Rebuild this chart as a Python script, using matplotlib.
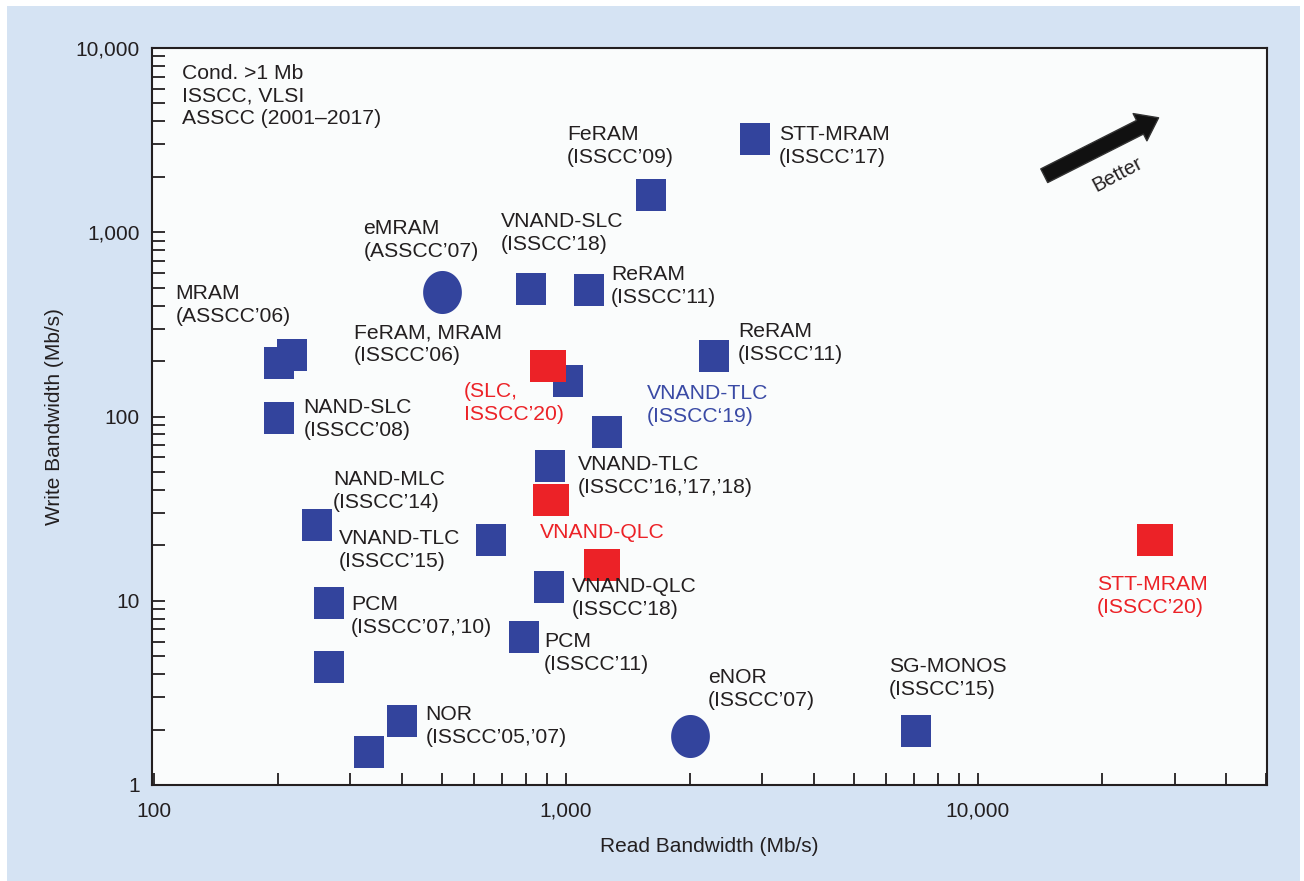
import numpy as np
import matplotlib.pyplot as plt
from matplotlib.path import Path
from matplotlib.patches import Rectangle, FancyArrowPatch
from matplotlib.ticker import FixedLocator, LogLocator, FuncFormatter, NullFormatter

plt.rcParams['font.family'] = ['Liberation Sans', 'DejaVu Sans']

# Dados (Mb/s)
blue_read = [201, 216, 822, 1137, 201, 1011, 1258, 915, 249, 658, 909, 266, 266, 791,
             2876, 1608, 2287, 332, 400, 7072]
blue_write = [195, 216, 492, 486, 98, 156, 82, 53.9, 25.8, 21.4, 11.9, 9.7, 4.37, 6.36,
              3207, 1592, 213, 1.51, 2.23, 1.96]

circle_read = [500, 2000]
circle_write = [474, 1.84]

red_read = [904, 920, 1223, 26900]
red_write = [188, 35.2, 15.6, 21.4]

# texto, x, y (dados), cor
labels = [
    ("Cond. >1 Mb\nISSCC, VLSI\nASSCC (2001–2017)", 117, 5487, 'k'),
    ("MRAM\n(ASSCC’06)", 113, 403, 'k'),
    ("eMRAM\n(ASSCC’07)", 323, 908, 'k'),
    ("FeRAM\n(ISSCC’09)", 1006, 2938, 'k'),
    ("STT-MRAM\n(ISSCC’17)", 3289, 2938, 'k'),
    ("VNAND-SLC\n(ISSCC’18)", 695, 991, 'k'),
    ("ReRAM\n(ISSCC’11)", 1286, 511, 'k'),
    ("FeRAM, MRAM\n(ISSCC’06)", 306, 247, 'k'),
    ("ReRAM\n(ISSCC’11)", 2615, 250, 'k'),
    ("(SLC,\nISSCC’20)", 565, 118, 'r'),
    ("VNAND-TLC\n(ISSCC‘19)", 1573, 115, 'b'),
    ("NAND-SLC\n(ISSCC’08)", 231, 97, 'k'),
    ("VNAND-TLC\n(ISSCC’16,’17,’18)", 1069, 47.5, 'k'),
    ("NAND-MLC\n(ISSCC’14)", 272, 39.4, 'k'),
    ("VNAND-QLC", 865, 23.6, 'r'),
    ("VNAND-TLC\n(ISSCC’15)", 281, 18.9, 'k'),
    ("VNAND-QLC\n(ISSCC’18)", 1034, 10.35, 'k'),
    ("PCM\n(ISSCC’07,’10)", 301, 8.27, 'k'),
    ("PCM\n(ISSCC’11)", 884, 5.2, 'k'),
    ("STT-MRAM\n(ISSCC’20)", 19450, 10.6, 'r'),
    ("eNOR\n(ISSCC’07)", 2212, 3.32, 'k'),
    ("SG-MONOS\n(ISSCC’15)", 6081, 3.81, 'k'),
    ("NOR\n(ISSCC’05,’07)", 457, 2.09, 'k'),
]

BLUE = '#33449d'
RED = '#ec2227'
INK = '#231f20'
colors = {'k': INK, 'r': RED, 'b': '#3a4aa5'}

# marcadores levemente retangulares, como no original
sq_blue = Path([(-0.45, -0.5), (0.45, -0.5), (0.45, 0.5), (-0.45, 0.5), (-0.45, -0.5)], closed=True)
sq_red = Path([(-0.5, -0.43), (0.5, -0.43), (0.5, 0.43), (-0.5, 0.43), (-0.5, -0.43)], closed=True)
t = np.linspace(0, 2 * np.pi, 80)
ellipse = Path(np.column_stack([0.45 * np.cos(t), 0.5 * np.sin(t)]), closed=True)

fig = plt.figure(figsize=(13.04, 8.81), dpi=100, facecolor='white')
fig.patches.append(Rectangle((7 / 1304, 0), 1293 / 1304, 875 / 881, transform=fig.transFigure,
                             facecolor='#d5e3f3', edgecolor='none', zorder=-10))

ax = fig.add_axes([152 / 1304, 96 / 881, 1115 / 1304, 737 / 881])
ax.set_facecolor('#fafcfc')
ax.set_xscale('log')
ax.set_yscale('log')
ax.set_xlim(99, 50300)
ax.set_ylim(1, 10000)

ax.plot(blue_read, blue_write, linestyle='none', marker=sq_blue, markersize=23.5,
        color=BLUE, markeredgewidth=0, zorder=3)
ax.plot(circle_read, circle_write, linestyle='none', marker=ellipse, markersize=31,
        color=BLUE, markeredgewidth=0, zorder=3)
ax.plot(red_read, red_write, linestyle='none', marker=sq_red, markersize=26,
        color=RED, markeredgewidth=0, zorder=4)

for text, x, y, c in labels:
    ax.text(x, y, text, ha='left', va='center', fontsize=15.2, color=colors[c],
            linespacing=1.25, zorder=5)

# seta "Better"
ax.add_patch(FancyArrowPatch((0.798, 0.825), (0.905, 0.907), transform=ax.transAxes,
                             arrowstyle='simple,head_width=1.1,head_length=0.75,tail_width=0.55',
                             mutation_scale=20, facecolor='#111111', edgecolor='#333333',
                             linewidth=1, zorder=5))
ax.text(0.866, 0.828, "Better", transform=ax.transAxes, rotation=28, ha='center', va='center',
        fontsize=14.5, color=INK)

fmt = FuncFormatter(lambda v, p: f"{int(round(v)):,}")
ax.xaxis.set_major_locator(FixedLocator([100, 1000, 10000]))
ax.yaxis.set_major_locator(FixedLocator([1, 10, 100, 1000, 10000]))
ax.xaxis.set_major_formatter(fmt)
ax.yaxis.set_major_formatter(fmt)
ax.xaxis.set_minor_locator(LogLocator(base=10, subs=np.arange(2, 10)))
ax.yaxis.set_minor_locator(LogLocator(base=10, subs=np.arange(2, 10)))
ax.xaxis.set_minor_formatter(NullFormatter())
ax.yaxis.set_minor_formatter(NullFormatter())

ax.tick_params(which='both', direction='in', length=9, width=1.3, color=INK,
               top=False, right=False)
ax.tick_params(axis='x', which='major', pad=12, labelsize=15, labelcolor=INK)
ax.tick_params(axis='y', which='major', pad=9, labelsize=15, labelcolor=INK)

for s in ax.spines.values():
    s.set_linewidth(1.5)
    s.set_color(INK)

ax.set_xlabel('Read Bandwidth (Mb/s)', fontsize=15, color=INK, labelpad=12)
ax.set_ylabel('Write Bandwidth (Mb/s)', fontsize=15, color=INK, labelpad=8)

plt.savefig('out.png', dpi=100)
plt.close()
